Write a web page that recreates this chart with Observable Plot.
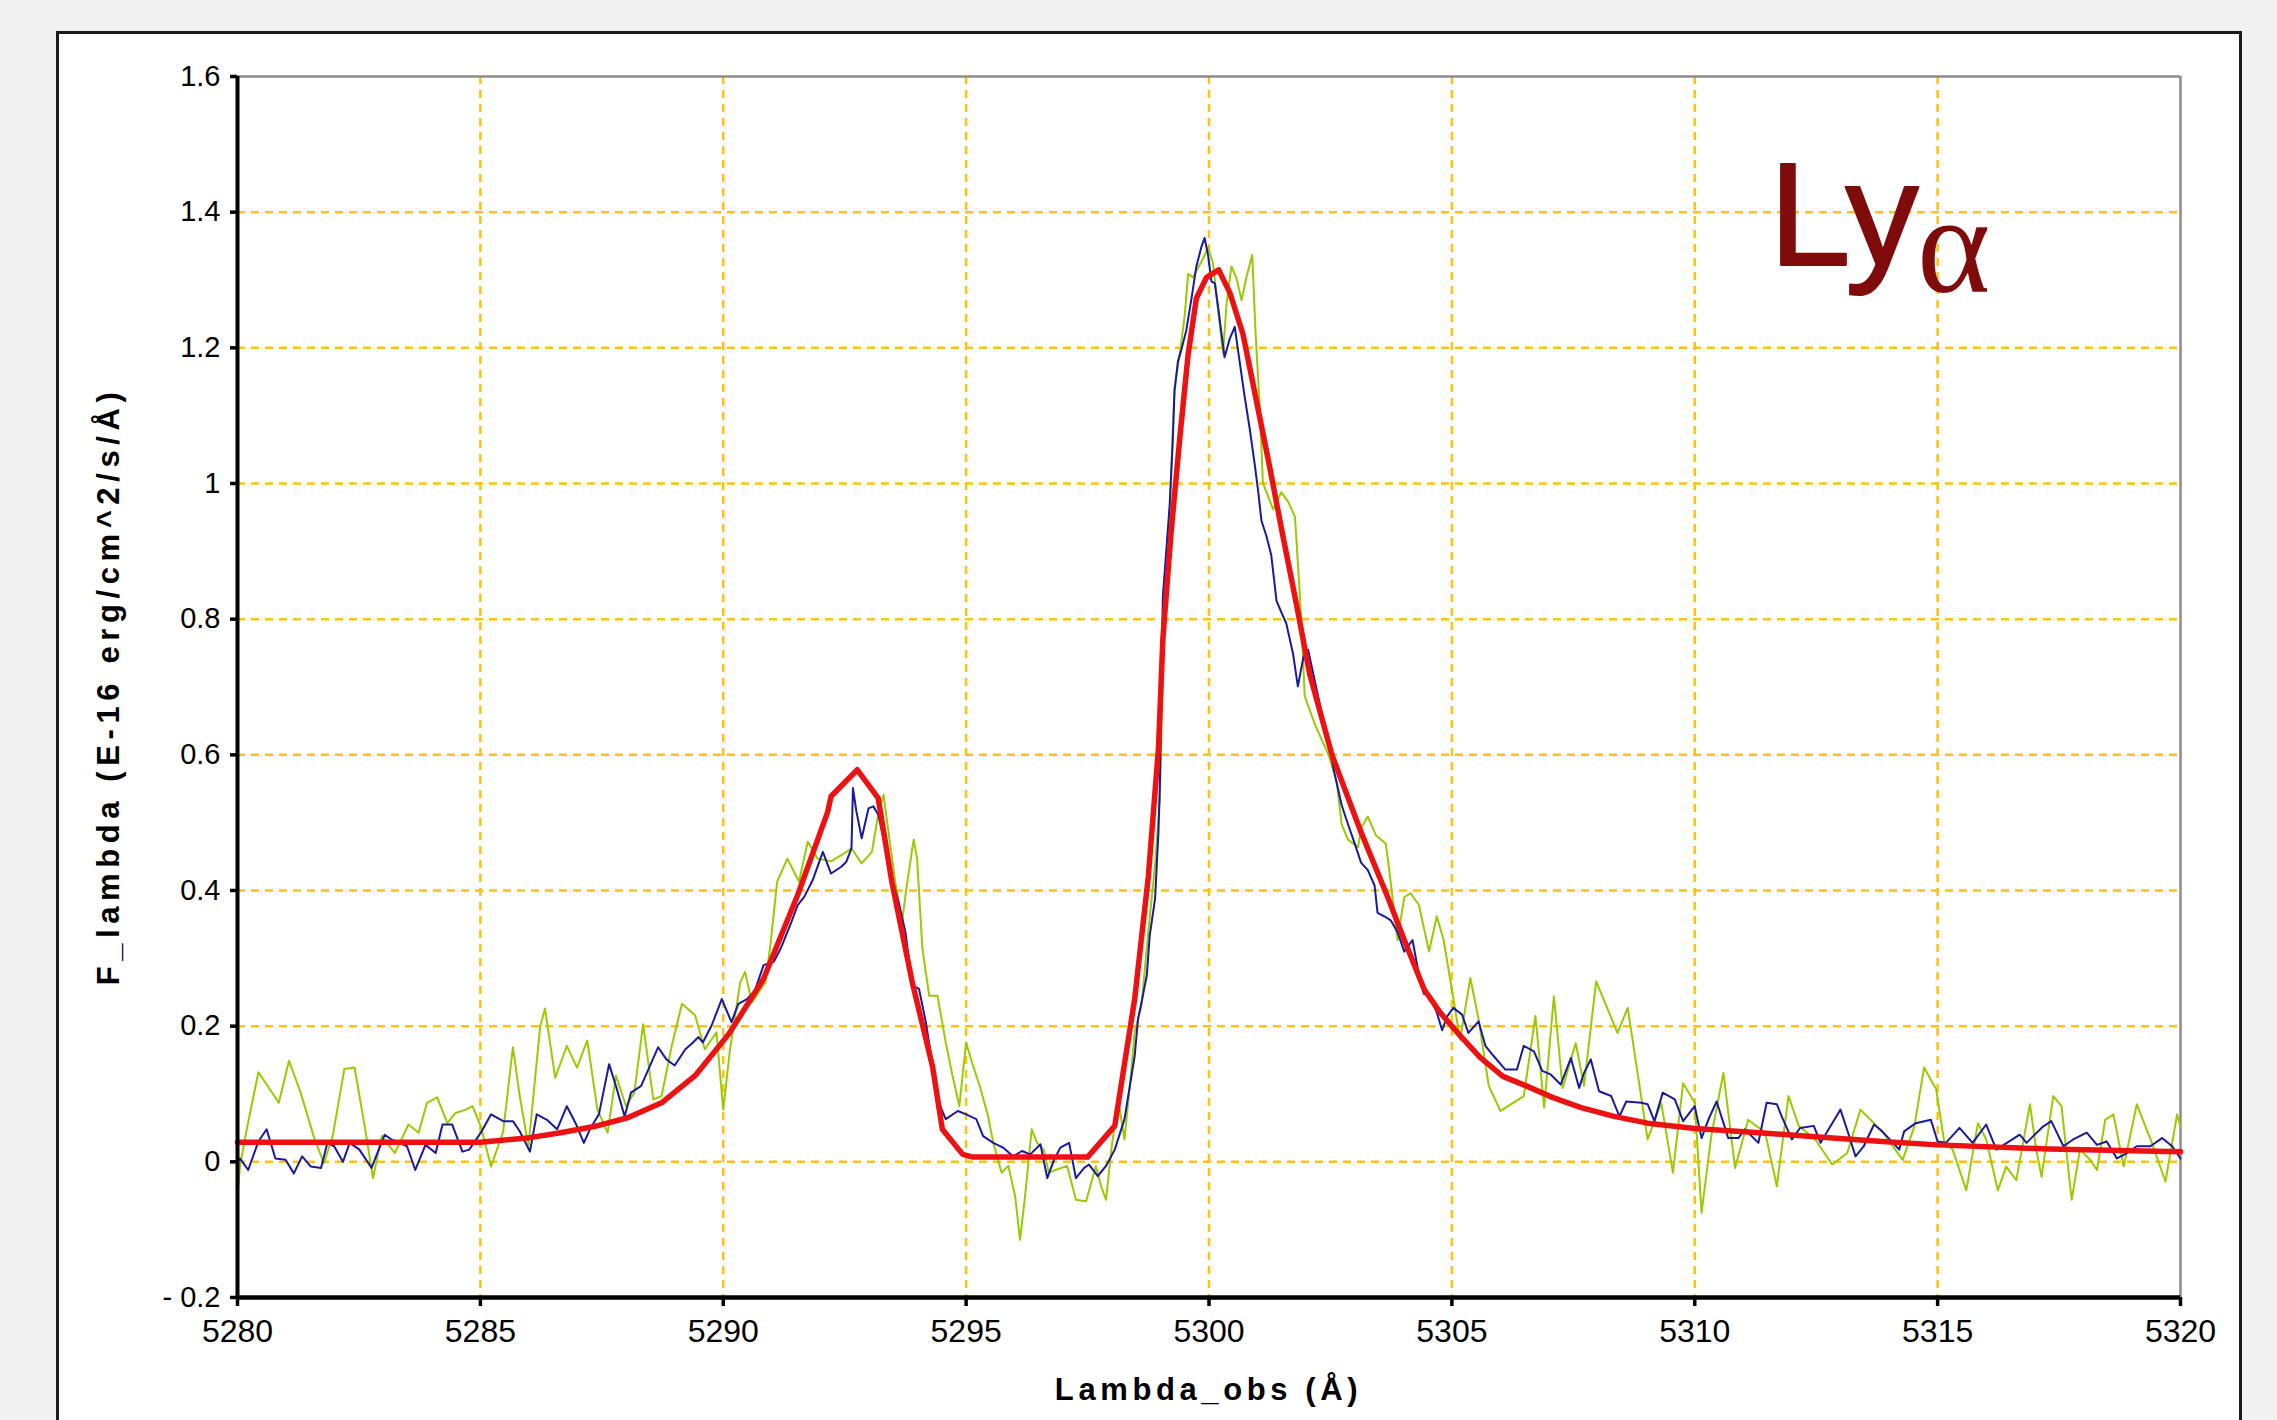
<!DOCTYPE html>
<html>
<head>
<meta charset="utf-8">
<script src="https://cdn.jsdelivr.net/npm/d3@7"></script>
<script src="https://cdn.jsdelivr.net/npm/@observablehq/plot@0.6"></script>
<style>
  html, body { margin: 0; padding: 0; background: #f1f1f1; width: 2277px; height: 1420px; overflow: hidden; }
  #panel { position: absolute; left: 56px; top: 31px; width: 2186px; height: 1440px; background: #fff; border: 3px solid #1c1c1c; box-sizing: border-box; }
  #chart { position: absolute; left: 0; top: 0; }
  .xtitle { position: absolute; left: 0; width: 2417px; top: 1372px; text-align: center; font: bold 31px "Liberation Sans", Arial, sans-serif; letter-spacing: 4.6px; color: #000; }
  .ytitle { position: absolute; left: 109px; top: 686px; transform: translate(-50%, -50%) rotate(-90deg); white-space: nowrap; font: bold 31px "Liberation Sans", Arial, sans-serif; letter-spacing: 5.6px; color: #000; }
  #overlay { position: absolute; left: 0; top: 0; }
</style>
</head>
<body>
<div id="panel"></div>
<div id="chart"></div>
<div class="xtitle">Lambda_obs (Å)</div>
<div class="ytitle">F_lambda (E-16 erg/cm^2/s/Å)</div>
<svg id="overlay" width="2277" height="1420">
  <text x="1769" y="265" font-family="Liberation Sans, Arial, sans-serif" font-size="147" fill="#7f0b0b" stroke="#7f0b0b" stroke-width="2" stroke-linejoin="round">Ly</text>
  <text x="1917" y="292" font-family="Liberation Serif, Times New Roman, serif" font-size="140" fill="#7f0b0b">α</text>
</svg>
<script>
// ---- axis ticks ----
const xTicks = [5280, 5285, 5290, 5295, 5300, 5305, 5310, 5315, 5320];
const yTicks = [-0.2, 0, 0.2, 0.4, 0.6, 0.8, 1, 1.2, 1.4, 1.6];
const yTickLabels = ["- 0.2", "0", "0.2", "0.4", "0.6", "0.8", "1", "1.2", "1.4", "1.6"];

// ---- observed spectrum 1 (green), [lambda, flux] ----
const greenSpectrum = [
  [5280.0,-0.051],[5280.05,-0.007],[5280.19,0.048],[5280.43,0.132],[5280.6,0.114],[5280.85,0.087],[5281.06,0.149],[5281.3,0.102],
  [5281.58,0.035],[5281.78,-0.002],[5281.96,0.038],[5282.2,0.137],[5282.41,0.139],[5282.62,0.052],[5282.79,-0.024],[5282.97,0.038],
  [5283.24,0.013],[5283.52,0.055],[5283.73,0.043],[5283.9,0.087],[5284.11,0.095],[5284.32,0.057],[5284.49,0.072],[5284.7,0.077],
  [5284.84,0.082],[5285.01,0.052],[5285.22,-0.007],[5285.47,0.045],[5285.67,0.169],[5285.81,0.097],[5285.99,0.023],[5286.23,0.199],
  [5286.33,0.226],[5286.54,0.124],[5286.78,0.171],[5286.99,0.139],[5287.2,0.179],[5287.41,0.077],[5287.62,0.043],[5287.79,0.127],
  [5288.0,0.082],[5288.17,0.102],[5288.35,0.203],[5288.56,0.092],[5288.73,0.097],[5288.94,0.171],[5289.15,0.233],[5289.42,0.216],
  [5289.62,0.166],[5289.86,0.191],[5290.0,0.077],[5290.14,0.166],[5290.35,0.265],[5290.45,0.28],[5290.59,0.235],[5290.87,0.265],
  [5290.97,0.319],[5291.11,0.413],[5291.32,0.447],[5291.56,0.413],[5291.74,0.472],[5291.94,0.447],[5292.22,0.443],[5292.43,0.452],
  [5292.64,0.462],[5292.85,0.44],[5293.06,0.457],[5293.19,0.512],[5293.3,0.541],[5293.4,0.487],[5293.54,0.413],[5293.68,0.354],
  [5293.78,0.408],[5293.92,0.475],[5293.99,0.447],[5294.1,0.314],[5294.24,0.245],[5294.41,0.245],[5294.58,0.176],[5294.72,0.127],
  [5294.86,0.082],[5295.0,0.176],[5295.14,0.142],[5295.28,0.112],[5295.45,0.068],[5295.56,0.028],[5295.73,-0.016],[5295.87,-0.006],
  [5296.01,-0.051],[5296.11,-0.115],[5296.22,-0.046],[5296.35,0.048],[5296.46,0.028],[5296.6,0.018],[5296.7,-0.016],[5296.88,-0.011],
  [5297.08,-0.006],[5297.26,-0.056],[5297.47,-0.058],[5297.67,-0.006],[5297.78,-0.036],[5297.88,-0.056],[5297.99,0.018],[5298.13,0.092],
  [5298.26,0.033],[5298.37,0.112],[5298.47,0.191],[5298.61,0.23],[5298.75,0.339],[5298.89,0.438],[5298.99,0.536],[5299.05,0.721],
  [5299.16,0.9],[5299.29,1.141],[5299.4,1.192],[5299.5,1.248],[5299.57,1.309],[5299.67,1.304],[5299.88,1.332],[5299.98,1.348],
  [5300.08,1.326],[5300.19,1.253],[5300.29,1.192],[5300.36,1.264],[5300.46,1.32],[5300.56,1.304],[5300.67,1.27],[5300.77,1.304],
  [5300.89,1.337],[5300.96,1.22],[5301.04,1.119],[5301.11,1.001],[5301.32,0.962],[5301.49,0.987],[5301.63,0.973],[5301.77,0.951],
  [5301.83,0.883],[5301.9,0.799],[5301.97,0.687],[5302.18,0.645],[5302.46,0.6],[5302.63,0.56],[5302.73,0.498],[5302.86,0.475],
  [5303.07,0.464],[5303.13,0.492],[5303.27,0.509],[5303.44,0.481],[5303.64,0.469],[5303.74,0.413],[5303.88,0.327],[5304.02,0.39],
  [5304.15,0.396],[5304.32,0.379],[5304.53,0.31],[5304.69,0.362],[5304.83,0.327],[5305.0,0.254],[5305.17,0.18],[5305.38,0.271],
  [5305.55,0.21],[5305.76,0.112],[5306.0,0.075],[5306.48,0.097],[5306.72,0.215],[5306.9,0.08],[5307.1,0.244],[5307.28,0.109],
  [5307.55,0.175],[5307.72,0.112],[5307.97,0.266],[5308.41,0.19],[5308.62,0.227],[5309.03,0.033],[5309.31,0.087],[5309.55,-0.016],
  [5309.76,0.116],[5310.0,0.087],[5310.14,-0.075],[5310.34,0.038],[5310.59,0.131],[5310.83,-0.009],[5311.1,0.062],[5311.45,0.043],
  [5311.69,-0.036],[5311.93,0.097],[5312.14,0.053],[5312.48,0.033],[5312.83,-0.004],[5313.14,0.013],[5313.41,0.077],[5313.69,0.057],
  [5313.93,0.038],[5314.28,0.003],[5314.52,0.052],[5314.72,0.139],[5314.97,0.107],[5315.14,0.028],[5315.31,0.018],[5315.59,-0.042],
  [5315.83,0.057],[5316.0,0.033],[5316.24,-0.042],[5316.41,-0.007],[5316.62,-0.027],[5316.9,0.085],[5317.03,0.018],[5317.14,-0.022],
  [5317.38,0.097],[5317.55,0.082],[5317.76,-0.056],[5317.93,0.018],[5318.14,0.003],[5318.28,-0.012],[5318.45,0.062],[5318.62,0.07],
  [5318.83,-0.007],[5319.1,0.085],[5319.41,0.028],[5319.69,-0.029],[5319.93,0.07],[5320.0,0.052]
];

// ---- observed spectrum 2 (blue), [lambda, flux] ----
const blueSpectrum = [
  [5280.0,0.0],[5280.05,0.005],[5280.22,-0.012],[5280.43,0.03],[5280.6,0.048],[5280.78,0.005],[5280.99,0.003],[5281.16,-0.017],
  [5281.33,0.008],[5281.51,-0.007],[5281.72,-0.009],[5281.85,0.028],[5281.99,0.023],[5282.17,0.0],[5282.31,0.028],[5282.51,0.018],
  [5282.76,-0.009],[5283.03,0.04],[5283.17,0.033],[5283.49,0.023],[5283.66,-0.012],[5283.87,0.025],[5284.08,0.013],[5284.22,0.055],
  [5284.42,0.055],[5284.63,0.015],[5284.77,0.018],[5285.01,0.043],[5285.22,0.07],[5285.47,0.06],[5285.67,0.06],[5285.81,0.045],
  [5286.02,0.015],[5286.16,0.07],[5286.37,0.062],[5286.58,0.048],[5286.78,0.082],[5286.96,0.057],[5287.13,0.028],[5287.27,0.05],
  [5287.44,0.07],[5287.65,0.144],[5287.79,0.112],[5287.97,0.067],[5288.1,0.102],[5288.31,0.112],[5288.66,0.169],[5288.83,0.151],
  [5289.0,0.142],[5289.22,0.166],[5289.35,0.174],[5289.49,0.184],[5289.58,0.176],[5289.76,0.201],[5289.97,0.24],[5290.17,0.206],
  [5290.31,0.233],[5290.49,0.24],[5290.65,0.252],[5290.83,0.29],[5291.04,0.295],[5291.18,0.314],[5291.39,0.351],[5291.53,0.378],
  [5291.67,0.391],[5291.84,0.415],[5292.05,0.457],[5292.22,0.425],[5292.43,0.435],[5292.53,0.442],[5292.64,0.462],[5292.67,0.551],
  [5292.74,0.517],[5292.85,0.477],[5292.99,0.521],[5293.09,0.524],[5293.19,0.512],[5293.33,0.467],[5293.47,0.418],[5293.61,0.383],
  [5293.75,0.339],[5293.89,0.26],[5294.03,0.255],[5294.17,0.206],[5294.31,0.142],[5294.44,0.087],[5294.58,0.063],[5294.83,0.075],
  [5295.0,0.07],[5295.21,0.063],[5295.35,0.038],[5295.56,0.028],[5295.76,0.021],[5295.97,0.008],[5296.15,0.016],[5296.32,0.011],
  [5296.53,0.026],[5296.67,-0.024],[5296.81,0.003],[5296.94,0.021],[5297.12,0.028],[5297.26,-0.024],[5297.43,-0.009],[5297.53,-0.004],
  [5297.71,-0.021],[5297.88,-0.006],[5298.06,0.018],[5298.26,0.063],[5298.47,0.156],[5298.54,0.211],[5298.61,0.235],[5298.72,0.275],
  [5298.78,0.334],[5298.89,0.388],[5298.96,0.487],[5298.99,0.561],[5299.05,0.833],[5299.12,0.9],[5299.19,0.968],[5299.25,1.057],
  [5299.29,1.136],[5299.36,1.18],[5299.43,1.197],[5299.53,1.225],[5299.64,1.273],[5299.74,1.32],[5299.84,1.348],[5299.91,1.362],
  [5299.98,1.337],[5300.05,1.298],[5300.12,1.295],[5300.19,1.259],[5300.32,1.186],[5300.43,1.214],[5300.53,1.231],[5300.63,1.18],
  [5300.73,1.13],[5300.84,1.08],[5300.94,1.029],[5301.01,0.99],[5301.08,0.945],[5301.18,0.923],[5301.28,0.895],[5301.39,0.827],
  [5301.49,0.81],[5301.59,0.794],[5301.73,0.749],[5301.83,0.701],[5301.94,0.743],[5302.04,0.755],[5302.25,0.685],[5302.46,0.617],
  [5302.59,0.571],[5302.73,0.526],[5302.86,0.498],[5303.0,0.469],[5303.13,0.441],[5303.27,0.43],[5303.41,0.407],[5303.47,0.367],
  [5303.61,0.362],[5303.74,0.356],[5303.88,0.339],[5304.02,0.31],[5304.19,0.327],[5304.29,0.288],[5304.42,0.248],[5304.56,0.242],
  [5304.69,0.22],[5304.8,0.194],[5304.9,0.214],[5305.03,0.227],[5305.21,0.217],[5305.34,0.19],[5305.55,0.207],[5305.69,0.171],
  [5305.86,0.156],[5306.1,0.136],[5306.34,0.136],[5306.48,0.171],[5306.69,0.163],[5306.86,0.134],[5307.03,0.129],[5307.24,0.114],
  [5307.45,0.153],[5307.62,0.109],[5307.72,0.131],[5307.86,0.151],[5308.03,0.104],[5308.28,0.097],[5308.45,0.067],[5308.59,0.089],
  [5308.9,0.087],[5309.03,0.085],[5309.17,0.06],[5309.34,0.102],[5309.59,0.092],[5309.76,0.06],[5310.0,0.082],[5310.14,0.035],
  [5310.28,0.062],[5310.45,0.089],[5310.69,0.035],[5310.9,0.035],[5311.03,0.048],[5311.31,0.028],[5311.48,0.087],[5311.69,0.085],
  [5311.79,0.067],[5312.0,0.033],[5312.17,0.05],[5312.45,0.053],[5312.59,0.028],[5313.0,0.077],[5313.17,0.04],[5313.31,0.008],
  [5313.48,0.023],[5313.69,0.055],[5313.86,0.045],[5314.21,0.018],[5314.31,0.045],[5314.55,0.057],[5314.86,0.062],[5315.0,0.03],
  [5315.17,0.028],[5315.45,0.05],[5315.72,0.028],[5316.0,0.055],[5316.21,0.018],[5316.69,0.04],[5316.83,0.028],[5317.17,0.052],
  [5317.34,0.06],[5317.59,0.023],[5317.79,0.033],[5318.07,0.043],[5318.28,0.025],[5318.48,0.03],[5318.69,0.005],[5318.9,0.013],
  [5319.1,0.023],[5319.38,0.023],[5319.62,0.035],[5319.83,0.023],[5320.0,0.005]
];

// ---- model fit (red), [lambda, flux] ----
const fitModel = [
  [5280,0.029],[5285,0.029],[5285.95,0.035],[5286.65,0.043],[5287.34,0.052],[5288.03,0.065],[5288.73,0.087],[5289.42,0.127],
  [5290.12,0.189],[5290.83,0.27],[5291.53,0.393],[5292.15,0.516],[5292.22,0.539],[5292.76,0.578],[5293.19,0.536],[5293.47,0.413],
  [5293.89,0.265],[5294.31,0.14],[5294.51,0.048],[5294.93,0.011],[5295.14,0.007],[5297.5,0.007],[5298.06,0.053],[5298.47,0.24],
  [5298.75,0.42],[5298.96,0.61],[5299.05,0.771],[5299.22,0.928],[5299.4,1.068],[5299.57,1.19],[5299.74,1.273],[5299.95,1.304],
  [5300.2,1.315],[5300.43,1.281],[5300.7,1.22],[5300.97,1.124],[5301.25,1.024],[5301.52,0.923],[5301.8,0.822],[5302.07,0.72],
  [5302.53,0.6],[5303.13,0.486],[5303.68,0.39],[5304.02,0.327],[5304.43,0.254],[5304.76,0.22],[5305.17,0.186],[5305.58,0.154],
  [5306.05,0.126],[5306.53,0.112],[5307.07,0.095],[5307.66,0.08],[5308.34,0.067],[5309.03,0.057],[5310,0.049],[5311.1,0.044],
  [5312.48,0.037],[5313.86,0.03],[5315,0.025],[5317.3,0.019],[5320,0.015]
];

const yLabel = new Map(yTicks.map((t, i) => [t, yTickLabels[i]]));
const gridColor = "#ffc20e";
const innerX = xTicks.slice(1, -1);
const innerY = yTicks.slice(1, -1);

const chart = Plot.plot({
  width: 2277,
  height: 1420,
  marginLeft: 237,
  marginRight: 97,
  marginTop: 76,
  marginBottom: 123,
  style: { background: "transparent", fontFamily: "'Liberation Sans', Arial, sans-serif", color: "#000" },
  x: { domain: [5280, 5320], label: null },
  y: { domain: [-0.2, 1.6], label: null },
  marks: [
    Plot.gridX(innerX, { stroke: gridColor, strokeOpacity: 1, strokeWidth: 2.5, strokeDasharray: "8,6" }),
    Plot.gridY(innerY, { stroke: gridColor, strokeOpacity: 1, strokeWidth: 2.5, strokeDasharray: "8,6" }),
    Plot.ruleY([1.6], { stroke: "#8c8c8c", strokeWidth: 2.5 }),
    Plot.ruleX([5320], { stroke: "#8c8c8c", strokeWidth: 2.5 }),
    Plot.line(greenSpectrum, { x: d => d[0], y: d => d[1], stroke: "#99cc00", strokeWidth: 2 }),
    Plot.line(blueSpectrum, { x: d => d[0], y: d => d[1], stroke: "#1a1a9c", strokeWidth: 2 }),
    Plot.line(fitModel, { x: d => d[0], y: d => d[1], stroke: "#ee1111", strokeWidth: 5.5, strokeLinejoin: "round" }),
    Plot.ruleX([5280], { stroke: "#000", strokeWidth: 4 }),
    Plot.ruleY([-0.2], { stroke: "#000", strokeWidth: 4.5 }),
    Plot.axisX({ ticks: xTicks, tickFormat: d => String(d), tickSize: 9, tickPadding: 13, fontSize: 32, strokeWidth: 3.5, stroke: "#000", label: null }),
    Plot.axisY({ ticks: yTicks, tickFormat: d => yLabel.get(d), tickSize: 7, tickPadding: 10, fontSize: 29, strokeWidth: 3.5, stroke: "#000", label: null })
  ]
});
document.getElementById("chart").appendChild(chart);
</script>
</body>
</html>
